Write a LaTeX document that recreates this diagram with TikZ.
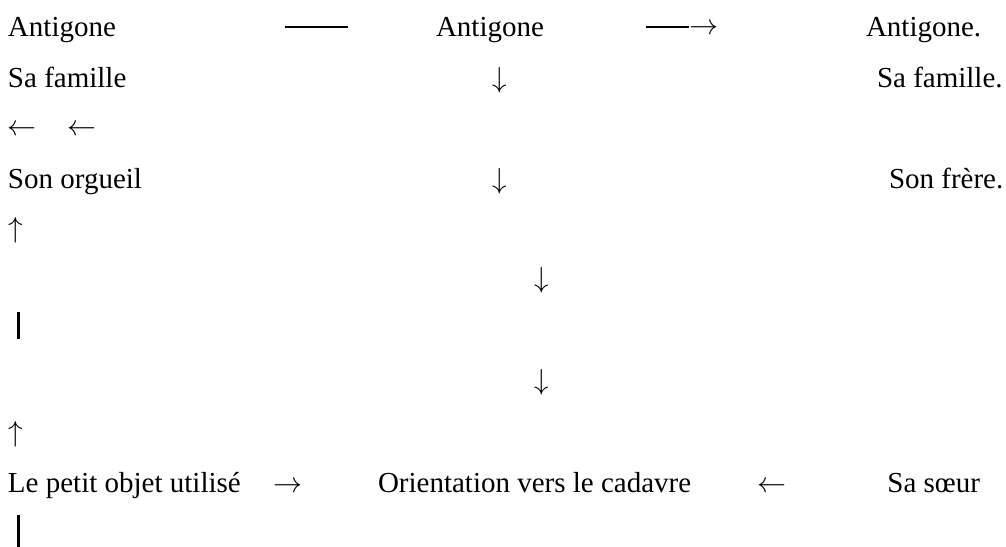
\documentclass[tikz,border=0pt]{standalone}
\usepackage{graphicx}
\usepackage{fontspec}
\setmainfont{Liberation Serif}
\newcommand{\arrg}[1]{\scalebox{2.9}{$#1$}}
\tikzset{
  txt/.style={inner sep=0pt, outer sep=0pt, anchor=base west, font=\fontsize{29}{35}\selectfont},
  glyph/.style={inner sep=0pt, outer sep=0pt, anchor=base},
  hbar/.style={fill=black, inner sep=0pt, outer sep=0pt, minimum height=2pt, anchor=west},
  vbar/.style={fill=black, inner sep=0pt, outer sep=0pt, minimum width=3pt, anchor=north},
}
\begin{document}
\begin{tikzpicture}[x=1pt,y=-1pt]
\useasboundingbox (0,0) rectangle (1006,546);
% row 1
\node[txt] (a1) at (8,36) {Antigone};
\node[hbar, minimum width=63pt] (d1) at (285,27) {};
\node[txt] (a2) at (436,36) {Antigone};
\node[hbar, minimum width=43pt] (d2) at (646,27) {};
\node[glyph, anchor=base east] (r1) at (718,34.5) {\arrg{\rightarrow}};
\node[txt] (a3) at (866,36) {Antigone.};
% row 2
\node[txt] (f1) at (8,87) {Sa famille};
\node[glyph] (v1) at (500,87) {\arrg{\downarrow}};
\node[txt] (f2) at (877,87) {Sa famille.};
% row 3
\node[glyph] (l1) at (21.5,135) {\arrg{\leftarrow}};
\node[glyph] (l2) at (81.5,135) {\arrg{\leftarrow}};
% row 4
\node[txt] (o1) at (8,188) {Son orgueil};
\node[glyph] (v2) at (500,188) {\arrg{\downarrow}};
\node[txt] (fr) at (889,188) {Son frère.};
% row 5
\node[glyph] (u1) at (15.5,237) {\arrg{\uparrow}};
% row 6
\node[glyph] (v3) at (542,287) {\arrg{\downarrow}};
% row 7
\node[vbar, minimum height=27pt] (b1) at (18.5,312) {};
% row 8
\node[glyph] (v4) at (542,389) {\arrg{\downarrow}};
% row 9
\node[glyph] (u2) at (15.5,441) {\arrg{\uparrow}};
% row 10
\node[txt] (p1) at (8,492) {Le petit objet utilisé};
\node[glyph] (r2) at (288,492) {\arrg{\rightarrow}};
\node[txt] (or) at (378,492) {Orientation vers le cadavre};
\node[glyph] (l3) at (772,492) {\arrg{\leftarrow}};
\node[txt, anchor=base east] (ss) at (980,492) {Sa sœur};
% row 11
\node[vbar, minimum height=40pt] (b2) at (18.5,515) {};
\end{tikzpicture}
\end{document}
